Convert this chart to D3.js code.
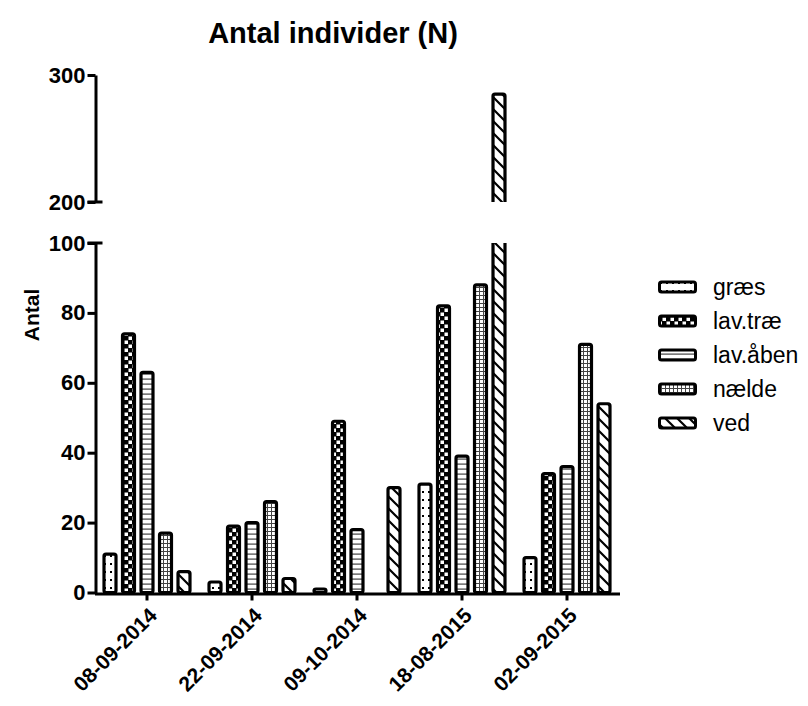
<!DOCTYPE html>
<html>
<head>
<meta charset="utf-8">
<script src="https://cdn.jsdelivr.net/npm/d3@7"></script>
<style>
  body { margin: 0; background: #fff; }
  text { font-family: "Liberation Sans", Arial, sans-serif; }
</style>
</head>
<body>
<svg class="chart"></svg>
<script>
const dates = ["08-09-2014", "22-09-2014", "09-10-2014", "18-08-2015", "02-09-2015"];
const series = ["græs", "lav.træ", "lav.åben", "nælde", "ved"];
const graes   = [11, 3, 1, 31, 10];
const lavTrae = [74, 19, 49, 82, 34];
const lavAaben = [63, 20, 18, 39, 36];
const naelde  = [17, 26, 0, 88, 71];
const ved     = [6, 4, 30, 285, 54];
const lowTicks = [0, 20, 40, 60, 80, 100];
const highTicks = [200, 300];

const values = [graes, lavTrae, lavAaben, naelde, ved];
const rows = [];
dates.forEach((d, i) => series.forEach((s, j) => rows.push({ date: d, s, j, v: values[j][i] })));

const W = 808, H = 706;
const svg = d3.select(".chart").attr("width", W).attr("height", H);
const defs = svg.append("defs");

// fill patterns
const p0 = defs.append("pattern").attr("id", "pat0").attr("patternUnits", "userSpaceOnUse")
  .attr("width", 6).attr("height", 8);
p0.append("rect").attr("width", 6).attr("height", 8).attr("fill", "#fff");
p0.append("rect").attr("x", 2).attr("y", 3).attr("width", 2).attr("height", 2).attr("fill", "#000");

const p1 = defs.append("pattern").attr("id", "pat1").attr("patternUnits", "userSpaceOnUse")
  .attr("width", 8).attr("height", 8);
p1.append("rect").attr("width", 8).attr("height", 8).attr("fill", "#000");
p1.append("rect").attr("x", 0.5).attr("y", 0.5).attr("width", 3.5).attr("height", 3.5).attr("fill", "#fff");
p1.append("rect").attr("x", 4.5).attr("y", 4.5).attr("width", 3.5).attr("height", 3.5).attr("fill", "#fff");

const p2 = defs.append("pattern").attr("id", "pat2").attr("patternUnits", "userSpaceOnUse")
  .attr("width", 8).attr("height", 5);
p2.append("rect").attr("width", 8).attr("height", 5).attr("fill", "#fff");
p2.append("rect").attr("y", 3.5).attr("width", 8).attr("height", 1.2).attr("fill", "#444");

const p3 = defs.append("pattern").attr("id", "pat3").attr("patternUnits", "userSpaceOnUse")
  .attr("width", 4).attr("height", 4);
p3.append("rect").attr("width", 4).attr("height", 4).attr("fill", "#fff");
p3.append("rect").attr("y", 3).attr("width", 4).attr("height", 1).attr("fill", "#444");
p3.append("rect").attr("x", 3).attr("width", 1).attr("height", 4).attr("fill", "#444");

const p4 = defs.append("pattern").attr("id", "pat4").attr("patternUnits", "userSpaceOnUse")
  .attr("width", 12).attr("height", 12);
p4.append("rect").attr("width", 12).attr("height", 12).attr("fill", "#fff");
p4.append("path").attr("d", "M0,0L12,12M-6,6L6,18M6,-6L18,6")
  .attr("stroke", "#000").attr("stroke-width", 2.2);

const fills = series.map((s, j) => `url(#pat${j})`);

// scales
const x0 = d3.scaleBand().domain(dates).range([94.5, 619.5]).padding(0);
const x1 = d3.scaleBand().domain(series).range([0, x0.bandwidth()])
  .paddingInner(0.19).paddingOuter(0.433);
const yLow = d3.scaleLinear().domain([0, 100]).range([592.5, 243]);
const yHigh = d3.scaleLinear().domain([200, 300]).range([202, 75]);
const axisX = 95.5;

defs.append("clipPath").attr("id", "clipLow").append("rect")
  .attr("x", 0).attr("y", yLow(100)).attr("width", W).attr("height", yLow(0) - yLow(100) + 10);
defs.append("clipPath").attr("id", "clipHigh").append("rect")
  .attr("x", 0).attr("y", 0).attr("width", W).attr("height", yHigh(200));

const barX = d => x0(d.date) + x1(d.s) + 1.5;
const barW = x1.bandwidth() - 3;

// lower segment bars
svg.append("g").attr("clip-path", "url(#clipLow)")
  .selectAll("rect").data(rows.filter(d => d.v > 0)).join("rect")
  .attr("x", barX).attr("width", barW)
  .attr("y", d => yLow(Math.min(d.v, 110)))
  .attr("height", d => yLow(0) - yLow(Math.min(d.v, 110)))
  .attr("rx", 2).attr("fill", d => fills[d.j])
  .attr("stroke", "#000").attr("stroke-width", 3.2);

// upper segment bars
svg.append("g").attr("clip-path", "url(#clipHigh)")
  .selectAll("rect").data(rows.filter(d => d.v > 200)).join("rect")
  .attr("x", barX).attr("width", barW)
  .attr("y", d => yHigh(d.v))
  .attr("height", d => yHigh(190) - yHigh(d.v))
  .attr("rx", 2).attr("fill", d => fills[d.j])
  .attr("stroke", "#000").attr("stroke-width", 3.2);

// axes
const styleAxis = g => {
  g.selectAll("path, line").attr("stroke", "#000").attr("stroke-width", 3);
  g.selectAll("text").attr("font-size", 22).attr("font-weight", "bold")
    .attr("font-family", '"Liberation Sans", Arial, sans-serif').attr("fill", "#000");
};

svg.append("g").attr("transform", `translate(${axisX},0)`)
  .call(d3.axisLeft(yLow).tickValues(lowTicks).tickSize(8).tickSizeOuter(0).tickPadding(2))
  .call(styleAxis);

svg.append("g").attr("transform", `translate(${axisX},0)`)
  .call(d3.axisLeft(yHigh).tickValues(highTicks).tickSize(8).tickSizeOuter(0).tickPadding(2))
  .call(styleAxis);

// break ends
svg.append("g").selectAll("line").data([yLow(100), yHigh(200)]).join("line")
  .attr("x1", axisX - 8).attr("x2", axisX + 7).attr("y1", d => d).attr("y2", d => d)
  .attr("stroke", "#000").attr("stroke-width", 3);

const gx = svg.append("g").attr("transform", `translate(0,${yLow(0) + 1})`)
  .call(d3.axisBottom(x0).tickSize(7).tickSizeOuter(0).tickPadding(6))
  .call(styleAxis);
gx.selectAll("text")
  .attr("text-anchor", "end")
  .attr("x", 0).attr("y", 0)
  .attr("transform", "translate(6,18) rotate(-45)")
  .attr("dy", "0.35em").attr("font-size", 21);

// titles
svg.append("text").attr("x", 333).attr("y", 43).attr("text-anchor", "middle")
  .attr("font-size", 29).attr("font-weight", "bold").text("Antal individer (N)");
svg.append("text").attr("transform", "translate(39,315) rotate(-90)")
  .attr("text-anchor", "middle").attr("font-size", 21).attr("font-weight", "bold").text("Antal");

// legend
const lg = svg.append("g").selectAll("g").data(series).join("g")
  .attr("transform", (d, i) => `translate(658,${287 + i * 34})`);
lg.append("rect").attr("x", 1.5).attr("y", -5).attr("width", 36).attr("height", 10).attr("rx", 2)
  .attr("fill", (d, i) => fills[i]).attr("stroke", "#000").attr("stroke-width", 3);
lg.append("text").attr("x", 55).attr("y", 0).attr("dy", "0.35em")
  .attr("font-size", 23).text(d => d);
</script>
</body>
</html>
